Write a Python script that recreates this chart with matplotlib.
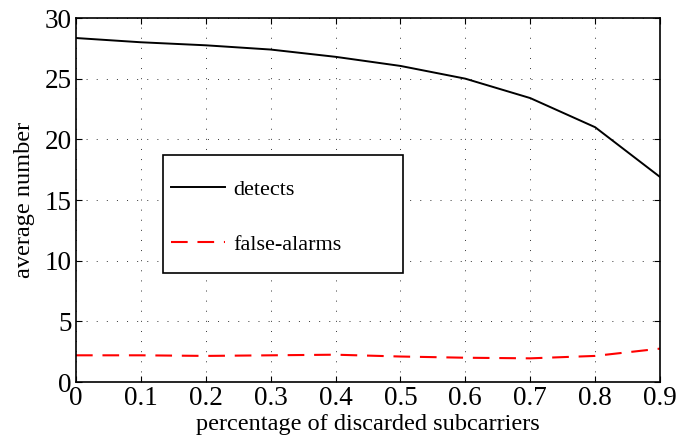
import matplotlib
matplotlib.use("Agg")
import matplotlib.pyplot as plt
from matplotlib.patches import Rectangle

x = [0, 0.1, 0.2, 0.3, 0.4, 0.5, 0.6, 0.7, 0.8, 0.9]
detects = [28.35, 28.0, 27.75, 27.4, 26.8, 26.05, 25.0, 23.4, 21.0, 16.9]
false_alarms = [2.2, 2.2, 2.15, 2.2, 2.25, 2.1, 2.0, 1.95, 2.15, 2.75]
xticks = [0, 0.1, 0.2, 0.3, 0.4, 0.5, 0.6, 0.7, 0.8, 0.9]
xticklabels = ["0", "0.1", "0.2", "0.3", "0.4", "0.5", "0.6", "0.7", "0.8", "0.9"]
yticks = [0, 5, 10, 15, 20, 25, 30]

plt.rcParams['font.family'] = ['Liberation Serif', 'DejaVu Serif']

fig = plt.figure(figsize=(6.89, 4.37), dpi=100)
ax = fig.add_axes([76/689, (437-382)/437, (660-76)/689, (382-18)/437])

ax.plot(x, detects, color='black', lw=1.4, label='detects')
ax.plot(x, false_alarms, color='red', lw=1.5, ls=(0, (8, 4.7)), label='false-alarms')

ax.set_xlim(0, 0.9)
ax.set_ylim(0, 30)
ax.set_xticks(xticks)
ax.set_xticklabels(xticklabels)
ax.set_yticks(yticks)
ax.tick_params(direction='in', labelsize=19.5, length=4, top=True, right=True, pad=3)
ax.grid(True, color='#333333', ls=(0, (1, 9.4)), lw=0.7)
for s in ax.spines.values():
    s.set_linewidth(1.2)

ax.set_xlabel('percentage of discarded subcarriers', fontsize=17.5, labelpad=2)
ax.set_ylabel('average number', fontsize=17.5, labelpad=7)

# legend frame
rect = Rectangle((0.149, 0.30), 0.411, 0.324, transform=ax.transAxes,
                 facecolor='white', edgecolor='black', lw=1.2, zorder=4)
ax.add_patch(rect)
leg = ax.legend(loc='center left', bbox_to_anchor=(0.149, 0.454), frameon=False,
                fontsize=16, labelspacing=1.55, borderpad=0.35, borderaxespad=0,
                handlelength=2.45, handletextpad=0.35)
leg.set_zorder(5)

fig.savefig('out.png', dpi=100)
